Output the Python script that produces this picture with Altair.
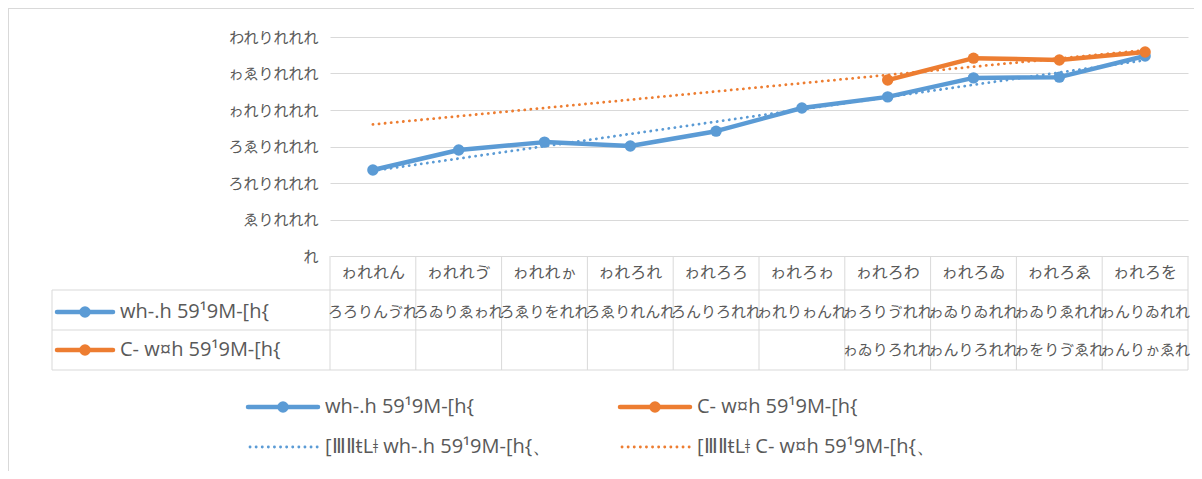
import altair as alt
import pandas as pd

# ---- data ----
years = [2007, 2008, 2009, 2010, 2011, 2012, 2013, 2014, 2015, 2016]
blue_values = [11780, 14520, 15600, 15070, 17100, 20270, 21800, 24400, 24500, 27400]
orange_values = [None, None, None, None, None, None, 24100, 27100, 26850, 27950]
series_names = ["wh-.h 59¹9M-[h{", "C- w¤h 59¹9M-[h{"]
trend_names = ["[ⅢⅡŧLǂ wh-.h 59¹9M-[h{、", "[ⅢⅡŧLǂ C- w¤h 59¹9M-[h{、"]
y_ticks = [0, 5000, 10000, 15000, 20000, 25000, 30000]
colors = ["#5B9BD5", "#ED7D31"]
TXT = "#595959"
GRID = "#D9D9D9"
CJK = "Noto Sans CJK JP"
LAT = "Open Sans"


def glyphs(s):
    # the chart's number font shows every digit / point 0x305C code points higher
    return "".join(chr(ord(c) + 0x305C) for c in s)


def num(n):
    return glyphs(f"{n:,}".replace(",", "."))


rows = []
for i, yr in enumerate(years):
    for name, vals in zip(series_names, [blue_values, orange_values]):
        v = vals[i]
        rows.append({"idx": i + 1, "year_label": glyphs(str(yr)), "series": name,
                     "value": v, "label": num(v) if v is not None else ""})
df = pd.DataFrame(rows)

label_expr = "".join(f"datum.value == {t} ? '{num(t)}' : " for t in y_ticks) + "''"

xscale = alt.Scale(domain=[0.5, 10.5], nice=False, zero=False)
yscale = alt.Scale(domain=[0, 30000], nice=False)
cscale = alt.Scale(domain=series_names, range=colors)

x_enc = alt.X("idx:Q", scale=xscale, axis=None)
y_enc = alt.Y("value:Q", scale=yscale, title=None,
              axis=alt.Axis(values=y_ticks, labelExpr=label_expr, grid=True, gridColor=GRID,
                            gridWidth=1, domain=False, ticks=False, labelFont=CJK,
                            labelFontSize=15, labelColor=TXT, labelPadding=12))
c_enc = alt.Color("series:N", scale=cscale, legend=None)

base = alt.Chart(df).transform_filter("isValid(datum.value)")

trend = base.transform_regression("idx", "value", groupby=["series"], extent=[1, 10]).mark_line(
    strokeWidth=2.8, strokeDash=[0.1, 6], strokeCap="round").encode(x=x_enc, y=y_enc, color=c_enc)

lines = base.mark_line(strokeWidth=4.5, strokeJoin="round", strokeCap="round").encode(
    x=x_enc, y=y_enc, color=c_enc, order="idx:Q")
points = base.mark_point(filled=True, size=130, opacity=1).encode(x=x_enc, y=y_enc, color=c_enc)

# ---- data table under the plot ----
one = pd.DataFrame({"k": [0]})
bounds = pd.DataFrame({"b": [i + 0.5 for i in range(len(years) + 1)]})
vrules = alt.Chart(bounds).mark_rule(color=GRID, strokeWidth=1).encode(
    x=alt.X("b:Q", scale=xscale, axis=None), y=alt.value(219), y2=alt.value(333))
hrules = alt.Chart(pd.DataFrame({"py": [253, 293, 333]})).mark_rule(color=GRID, strokeWidth=1).encode(
    y=alt.Y("py:Q", scale=None), x=alt.value(-278), x2=alt.value(858))
left_rule = alt.Chart(one).mark_rule(color=GRID, strokeWidth=1).encode(
    x=alt.value(-278), y=alt.value(253), y2=alt.value(333))

year_text = alt.Chart(df[df.series == series_names[0]]).mark_text(
    font=CJK, fontSize=16, color=TXT, baseline="middle").encode(
    x=alt.X("idx:Q", scale=xscale, axis=None), y=alt.value(236), text="year_label:N")
blue_text = alt.Chart(df[df.series == series_names[0]]).mark_text(
    font=CJK, fontSize=15, color=TXT, baseline="middle").encode(
    x=alt.X("idx:Q", scale=xscale, axis=None), y=alt.value(275), text="label:N")
orange_text = alt.Chart(df[(df.series == series_names[1]) & (df.label != "")]).mark_text(
    font=CJK, fontSize=15, color=TXT, baseline="middle").encode(
    x=alt.X("idx:Q", scale=xscale, axis=None), y=alt.value(313), text="label:N")

# frame of the chart area
frame_top = alt.Chart(one).mark_rule(color=GRID, strokeWidth=1).encode(
    x=alt.value(-322), x2=alt.value(864), y=alt.value(-28.5))
frame_left = alt.Chart(one).mark_rule(color=GRID, strokeWidth=1).encode(
    x=alt.value(-321.5), y=alt.value(-29), y2=alt.value(434))


def key(x0, x1, y, color, label, dotted=False):
    parts = []
    if dotted:
        parts.append(alt.Chart(one).mark_rule(color=color, strokeWidth=2.8, strokeDash=[0.1, 6],
                                              strokeCap="round").encode(
            x=alt.value(x0 + 2), x2=alt.value(x1), y=alt.value(y)))
    else:
        parts.append(alt.Chart(one).mark_rule(color=color, strokeWidth=4.5, strokeCap="round").encode(
            x=alt.value(x0), x2=alt.value(x1), y=alt.value(y)))
        parts.append(alt.Chart(one).mark_point(filled=True, size=130, opacity=1, color=color).encode(
            x=alt.value((x0 + x1) / 2), y=alt.value(y)))
    parts.append(alt.Chart(one).mark_text(align="left", baseline="middle", font=LAT, fontSize=20,
                                          color=TXT).encode(
        x=alt.value(x1 + 7), y=alt.value(y), text=alt.value(label)))
    return parts


keys = []
keys += key(-273, -217, 275, colors[0], series_names[0])
keys += key(-273, -217, 313, colors[1], series_names[1])
keys += key(-82, -12, 370, colors[0], series_names[0])
keys += key(290, 360, 370, colors[1], series_names[1])
keys += key(-82, -12, 410, colors[0], trend_names[0], dotted=True)
keys += key(290, 360, 410, colors[1], trend_names[1], dotted=True)

chart = alt.layer(
    frame_top, frame_left, vrules, hrules, left_rule,
    lines, points, trend, year_text, blue_text, orange_text, *keys
).properties(
    width=858, height=219,
    autosize=alt.AutoSizeParams(type="none"),
    padding={"left": 322, "top": 29, "right": 6, "bottom": 215},
).configure_view(stroke=None)

chart.save("out.html", embed_options={"renderer": "svg", "actions": False})
